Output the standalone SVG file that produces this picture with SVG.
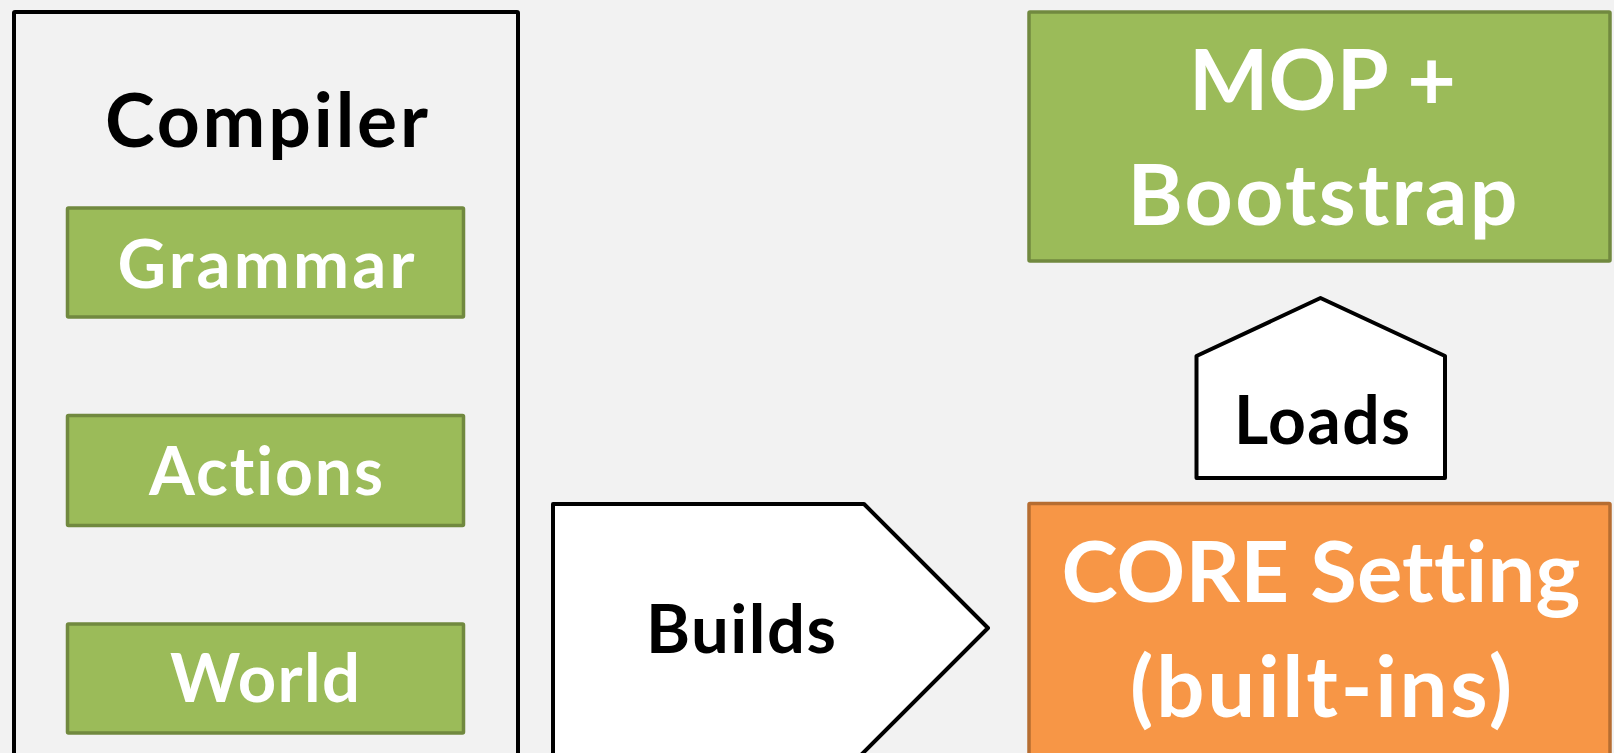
<svg xmlns="http://www.w3.org/2000/svg" width="1614" height="753" viewBox="0 0 1614 753">
  <style>
    text { font-family: Lato, "Open Sans", "Liberation Sans", sans-serif; font-weight: 700; text-anchor: middle; font-variant-ligatures: none; font-feature-settings: "liga" 0, "dlig" 0; }
    .frame { fill: #F2F2F2; stroke: #000000; stroke-width: 4; }
    .green { fill: #9BBB59; stroke: #71893F; stroke-width: 3.5; }
    .orange { fill: #F79646; stroke: #B66D31; stroke-width: 3.5; }
    .arrow { fill: #FFFFFF; stroke: #000000; stroke-width: 4; stroke-linejoin: round; }
    .dark { fill: #000000; }
    .light { fill: #FFFFFF; }
  </style>
  <rect x="0" y="0" width="1614" height="753" fill="#F2F2F2"/>

  <!-- compiler container with its three parts -->
  <g id="compiler">
    <rect class="frame" x="14" y="12" width="504" height="760" rx="1"/>
    <text class="dark" x="266.5" y="146.5" font-size="75" textLength="323">Compiler</text>
  </g>
  <g id="grammar">
    <rect class="green" x="67.5" y="208" width="396" height="109" rx="1"/>
    <text class="light" x="266" y="288" font-size="67" textLength="297">Grammar</text>
  </g>
  <g id="actions">
    <rect class="green" x="67.5" y="415.5" width="396" height="110" rx="1"/>
    <text class="light" x="266" y="495" font-size="66" textLength="234">Actions</text>
  </g>
  <g id="world">
    <rect class="green" x="67.5" y="624" width="396" height="109" rx="1"/>
    <text class="light" x="265" y="702" font-size="67" textLength="190">World</text>
  </g>

  <!-- right column -->
  <g id="mop-bootstrap">
    <rect class="green" x="1029" y="12" width="581" height="249" rx="1"/>
    <text class="light" x="1322.5" y="110" font-size="84" textLength="267">MOP +</text>
    <text class="light" x="1322.5" y="225" font-size="84" textLength="390">Bootstrap</text>
  </g>
  <g id="core-setting">
    <rect class="orange" x="1029" y="503.5" width="581" height="270" rx="1"/>
    <text class="light" x="1321" y="602" font-size="85" textLength="519">CORE Setting</text>
    <text class="light" x="1321" y="717" font-size="85" textLength="382">(built-ins)</text>
  </g>

  <!-- block arrows between the parts -->
  <g id="connectors">
    <g id="builds">
      <polygon class="arrow" points="553,504 864,504 988,628 860,756 553,756"/>
      <text class="dark" x="741" y="653" font-size="67" textLength="190">Builds</text>
    </g>
    <g id="loads">
      <polygon class="arrow" points="1320.5,298 1445,356 1445,478 1196.5,478 1196.5,356"/>
      <text class="dark" x="1322" y="444" font-size="66" textLength="176">Loads</text>
    </g>
  </g>
</svg>
